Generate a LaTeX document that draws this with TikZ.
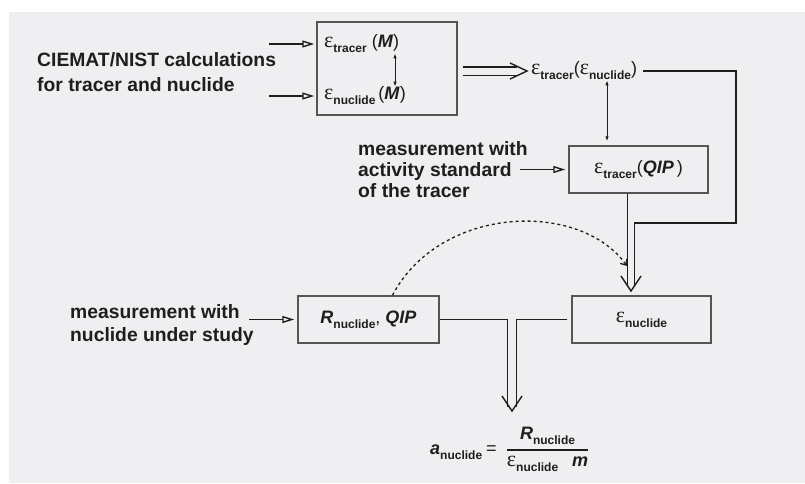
\documentclass[tikz,border=0pt]{standalone}
\usepackage{amsmath}
\usepackage{fontspec}
\setmainfont{Liberation Sans}
\newfontfamily\greekfont{Liberation Serif}
\usepackage{tikz}
\usetikzlibrary{
  arrows.meta,
  calc
}
\definecolor{paperGray}{HTML}{EFEEF1}
\definecolor{boxGray}{HTML}{555555}
\definecolor{inkGray}{HTML}{1E1E1E}
\newcommand{\epsGlyph}{{\greekfont\fontsize{22}{22}\selectfont ε}}
\newcommand{\lowIdx}[1]{\raisebox{-5pt}{\fontsize{12}{12}\selectfont\bfseries #1}}
\newcommand{\symBI}[1]{\textbf{\textit{#1}}}
\tikzset{
  flowBox/.style={
    draw=boxGray,
    line width=1.5pt,
    fill=paperGray,
    minimum width=139pt,
    minimum height=47pt,
    inner sep=0pt,
    text=inkGray,
    font=\fontsize{18}{18}\selectfont
  },
  boxText/.style={inner sep=0pt, text=inkGray, font=\fontsize{18}{18}\selectfont},
  flowText/.style={
    font=\bfseries\fontsize{19.3}{21}\selectfont,
    align=left,
    anchor=west,
    inner sep=0pt,
    text=inkGray
  },
  flowLine/.style={draw=inkGray, line width=1.4pt},
  inArrow/.style={flowLine, -{Triangle[open, length=12pt, width=7pt]}},
  twoWay/.style={flowLine, line width=1pt, {Latex[length=5pt, width=3.5pt]}-{Latex[length=5pt, width=3.5pt]}},
  implShaft/.style={draw=inkGray, line width=1.4pt, double=paperGray, double distance=7pt},
  hintArrow/.style={draw=inkGray, line width=1.3pt, dash pattern=on 3pt off 3pt, -{Straight Barb[length=5pt, width=8pt]}}
}
\begin{document}
\begin{tikzpicture}[x=1pt,y=-1pt]
  \useasboundingbox (0,0) rectangle (805,483);
  \fill[white] (0,0) rectangle (805,483);
  \fill[paperGray] (9,12) rectangle (805,483);

  \node[flowText, font=\bfseries\fontsize{19.3}{25}\selectfont] (ciemat) at (37,72)
    {CIEMAT/NIST calculations\\for tracer and nuclide};
  \node[flowBox, minimum width=140pt, minimum height=93pt] (calcBox) at (387,68.5) {};
  \node[boxText, anchor=west] (epsTrM) at (324,44) {\epsGlyph\lowIdx{tracer}\ (\symBI{M})};
  \node[boxText, anchor=west] (epsNuM) at (324,96) {\epsGlyph\lowIdx{nuclide}\,(\symBI{M})};
  \coordinate (mLink) at (395,0);
  \draw[twoWay] (epsTrM.south -| mLink) -- (epsNuM.north -| mLink);
  \draw[inArrow] ([xshift=-47]calcBox.west |- epsTrM) -- ([xshift=-2]calcBox.west |- epsTrM);
  \draw[inArrow] ([xshift=-47]calcBox.west |- epsNuM) -- ([xshift=-2]calcBox.west |- epsNuM);

  \node[boxText, anchor=west] (epsTrNu) at (531,71) {\epsGlyph\lowIdx{tracer}(\epsGlyph\lowIdx{nuclide})};
  \coordinate (implTip) at ([xshift=-4]epsTrNu.west);
  \draw[implShaft] ([xshift=5]calcBox.east |- implTip) -- ([xshift=-10]implTip);
  \draw[flowLine] (implTip) ++(-17,8) -- (implTip) -- ++(-17,-8);

  \node[flowText] (stdText) at (358,170) {measurement with\\activity standard\\of the tracer};
  \node[flowBox] (epsTrQIP) at (638.5,169.5) {\epsGlyph\lowIdx{tracer}(\symBI{QIP}\,)};
  \coordinate (nuLink) at (607,0);
  \draw[twoWay] (epsTrNu.south -| nuLink) -- ([yshift=4]epsTrQIP.north -| nuLink);
  \draw[inArrow] ([xshift=-48]epsTrQIP.west) -- ([xshift=-3]epsTrQIP.west);

  \node[flowText, font=\bfseries\fontsize{19.3}{24}\selectfont] (nucText) at (70,325)
    {measurement with\\nuclide under study};
  \node[flowBox, minimum width=141pt] (rQIP) at (368.5,319.5) {\symBI{R}\lowIdx{nuclide}, \symBI{QIP}};
  \node[flowBox] (epsNu) at (641.5,319.5) {\epsGlyph\lowIdx{nuclide}};
  \draw[inArrow] ([xshift=-48]rQIP.west) -- ([xshift=-3]rQIP.west);

  \coordinate (mergeTip) at (631,291);
  \coordinate (mergeL) at (627.5,287);
  \coordinate (mergeR) at (634.5,287);
  \coordinate (loopCorner) at (736,223);
  \draw[flowLine] (epsTrQIP.south -| mergeL) -- (mergeL);
  \draw[flowLine] ([xshift=6]epsTrNu.east) -| (loopCorner) -| (mergeR);
  \draw[flowLine] (mergeTip) ++(-10,-15) -- (mergeTip) -- ++(10,-15);

  \coordinate (hintEnd) at (627,266);
  \draw[hintArrow] ([xshift=24]rQIP.north) .. controls (440,205) and (580,200) .. (hintEnd);

  \coordinate (sumTip) at (512,411);
  \coordinate (sumL) at (507.5,407);
  \coordinate (sumR) at (516.5,407);
  \draw[flowLine] (rQIP.east) -| (sumL);
  \draw[flowLine] ([xshift=-4]epsNu.west) -| (sumR);
  \draw[flowLine] (sumTip) ++(-10,-15) -- (sumTip) -- ++(10,-15);

  \node[boxText, anchor=west] (actFormula) at (430,449)
    {\symBI{a}\lowIdx{nuclide}\hspace{4pt}=\hspace{9pt}$\genfrac{}{}{1.6pt}{0}{\text{\symBI{R}\lowIdx{nuclide}}}{\text{\epsGlyph\lowIdx{nuclide}\hspace{14pt}\symBI{m}}}$};
\end{tikzpicture}
\end{document}
